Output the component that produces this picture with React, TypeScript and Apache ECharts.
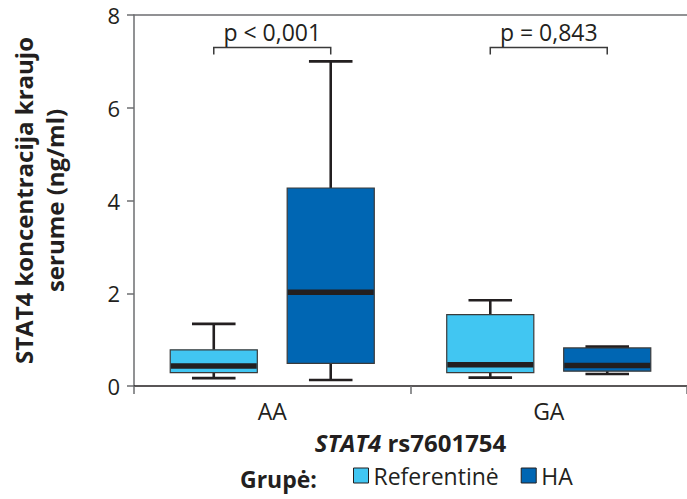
import React, { useEffect, useRef } from 'react';
import * as echarts from 'echarts';

const categories = ['AA', 'GA'];
const yTickMin = 0;
const yTickMax = 8;
const yTickStep = 2;
const seriesNames = ['Referentinė', 'HA'];
// [min, q1, median, q3, max]
const referentineStats = [
  [0.17, 0.29, 0.43, 0.78, 1.34],
  [0.18, 0.29, 0.46, 1.54, 1.85],
];
const haStats = [
  [0.13, 0.49, 2.02, 4.27, 7.0],
  [0.26, 0.32, 0.44, 0.82, 0.85],
];
const pLabels = ['p < 0,001', 'p = 0,843'];
const pBracketLevel = [7.3, 7.3];

const FONT = 'Open Sans';
const INK = '#231f20';
const GRAY = '#6d6e71';
const COLORS = ['#41c6f2', '#0066b3'];

const OFFSET = 0.2115;
const BOXW = 0.315;

function makeBoxRender(side: number, color: string) {
  return (params: any, api: any) => {
    const cat = api.value(0);
    const band = api.size([1, 0])[0];
    const cx = api.coord([cat, 0])[0] + side * band * OFFSET;
    const w = band * BOXW;
    const y = (v: number) => api.coord([cat, v])[1];
    const yMin = y(api.value(1));
    const yQ1 = y(api.value(2));
    const yMed = y(api.value(3));
    const yQ3 = y(api.value(4));
    const yMax = y(api.value(5));
    const wl = { stroke: INK, lineWidth: 2.6 };
    return {
      type: 'group',
      children: [
        { type: 'line', shape: { x1: cx, y1: yMax, x2: cx, y2: yQ3 }, style: wl },
        { type: 'line', shape: { x1: cx, y1: yQ1, x2: cx, y2: yMin }, style: wl },
        { type: 'line', shape: { x1: cx - w / 4, y1: yMax, x2: cx + w / 4, y2: yMax }, style: wl },
        { type: 'line', shape: { x1: cx - w / 4, y1: yMin, x2: cx + w / 4, y2: yMin }, style: wl },
        {
          type: 'rect',
          shape: { x: cx - w / 2, y: yQ3, width: w, height: yQ1 - yQ3 },
          style: { fill: color, stroke: '#3a3a3a', lineWidth: 1.2 },
        },
        {
          type: 'line',
          shape: { x1: cx - w / 2 + 0.6, y1: yMed, x2: cx + w / 2 - 0.6, y2: yMed },
          style: { stroke: INK, lineWidth: 5.5 },
        },
      ],
    };
  };
}

function renderBracket(params: any, api: any) {
  const cat = api.value(0);
  const band = api.size([1, 0])[0];
  const c = api.coord([cat, 0])[0];
  const x1 = c - band * OFFSET;
  const x2 = c + band * OFFSET;
  const yb = api.coord([cat, api.value(1)])[1];
  const label = pLabels[params.dataIndex];
  return {
    type: 'group',
    children: [
      {
        type: 'polyline',
        shape: { points: [[x1, yb + 7], [x1, yb], [x2, yb], [x2, yb + 7]] },
        style: { stroke: '#3a3a3a', lineWidth: 1.5, fill: 'none' },
      },
      {
        type: 'text',
        x: c,
        y: yb - 4,
        style: {
          text: label,
          fill: INK,
          font: `23px "${FONT}"`,
          align: 'center',
          verticalAlign: 'bottom',
        },
      },
    ],
  };
}

export default function App() {
  const ref = useRef<HTMLDivElement>(null);
  useEffect(() => {
    document.body.style.margin = '0';
    const chart = echarts.init(ref.current!, null, { renderer: 'svg' });
    const option: any = {
      animation: false,
      textStyle: { fontFamily: FONT },
      grid: { left: 124, right: -9, top: 15, bottom: 113, containLabel: false },
      xAxis: [
        {
          type: 'category',
          data: categories,
          name: '{i|STAT4}{b| rs7601754}',
          nameLocation: 'middle',
          nameGap: 44,
          nameTextStyle: {
            rich: {
              i: { fontFamily: FONT, fontSize: 24, fontWeight: 'bold', fontStyle: 'italic', color: INK },
              b: { fontFamily: FONT, fontSize: 24, fontWeight: 'bold', color: INK },
            },
          },
          axisLine: { lineStyle: { color: INK, width: 1.5 } },
          axisTick: { show: true, length: 8, lineStyle: { color: GRAY, width: 1.5 } },
          axisLabel: { fontFamily: FONT, fontSize: 23, color: INK, margin: 13 },
        },
        {
          type: 'category',
          data: categories,
          position: 'top',
          axisLine: { lineStyle: { color: GRAY, width: 1.5 } },
          axisTick: { show: false },
          axisLabel: { show: false },
        },
      ],
      yAxis: {
        type: 'value',
        min: yTickMin,
        max: yTickMax,
        interval: yTickStep,
        name: 'STAT4 koncentracija kraujo\nserume (ng/ml)',
        nameLocation: 'middle',
        nameGap: 64,
        nameTextStyle: {
          fontFamily: FONT,
          fontSize: 24,
          fontWeight: 'bold',
          color: INK,
          lineHeight: 31,
        },
        axisLine: { show: true, lineStyle: { color: GRAY, width: 1.5 } },
        axisTick: { show: true, length: 7, lineStyle: { color: GRAY, width: 1.5 } },
        axisLabel: { fontFamily: FONT, fontSize: 22, color: INK, margin: 14 },
        splitLine: { show: false },
      },
      legend: {
        data: seriesNames,
        left: 348,
        top: 459,
        icon: 'rect',
        itemWidth: 15,
        itemHeight: 15,
        itemGap: 22,
        textStyle: { fontFamily: FONT, fontSize: 23, color: INK },
        itemStyle: { borderColor: INK, borderWidth: 1 },
      },
      graphic: [
        {
          type: 'text',
          left: 240,
          top: 467,
          style: { text: 'Grupė:', font: `bold 23px "${FONT}"`, fill: INK },
        },
      ],
      series: [
        {
          type: 'custom',
          name: seriesNames[0],
          renderItem: makeBoxRender(-1, COLORS[0]),
          itemStyle: { color: COLORS[0], borderColor: INK, borderWidth: 1 },
          encode: { x: 0, y: [1, 2, 3, 4, 5] },
          data: categories.map((_, i) => [i, ...referentineStats[i]]),
        },
        {
          type: 'custom',
          name: seriesNames[1],
          renderItem: makeBoxRender(1, COLORS[1]),
          itemStyle: { color: COLORS[1], borderColor: INK, borderWidth: 1 },
          encode: { x: 0, y: [1, 2, 3, 4, 5] },
          data: categories.map((_, i) => [i, ...haStats[i]]),
        },
        {
          type: 'custom',
          name: 'p',
          renderItem: renderBracket,
          encode: { x: 0, y: 1 },
          data: categories.map((_, i) => [i, pBracketLevel[i]]),
        },
      ],
    };
    chart.setOption(option);
    return () => chart.dispose();
  }, []);
  return <div ref={ref} style={{ width: 687, height: 499 }} />;
}
